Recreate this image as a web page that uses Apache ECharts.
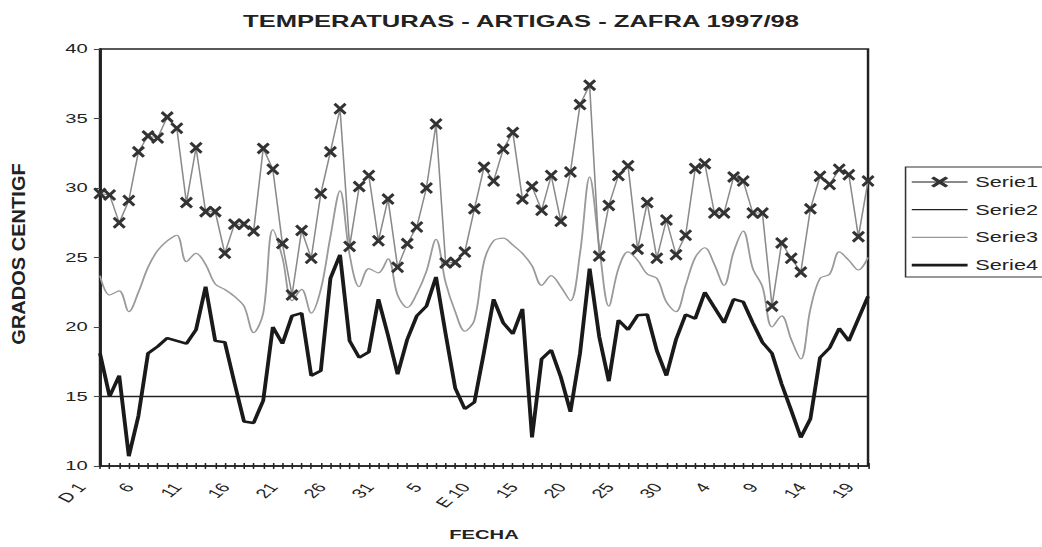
<!DOCTYPE html>
<html><head><meta charset="utf-8">
<script src="https://cdn.jsdelivr.net/npm/echarts@6/dist/echarts.min.js"></script>
<style>
html,body{margin:0;padding:0;background:#fff;overflow:hidden;width:1042px;height:547px}
#wrap{width:1042px;height:547px;overflow:hidden;position:relative;background:#fff}
#chart{width:672px;height:547px;transform:scaleX(1.5506);transform-origin:0 0}
</style></head><body><div id="wrap"><div id="chart"></div></div>
<script>
// Category labels: 1 Dec 1997 .. 19 Feb 1998
const categories = [
 "D 1","2","3","4","5","6","7","8","9","10","11","12","13","14","15","16","17","18","19","20","21","22","23","24","25","26","27","28","29","30","31",
 "1","2","3","4","5","6","7","8","9","E 10","11","12","13","14","15","16","17","18","19","20","21","22","23","24","25","26","27","28","29","30","31",
 "1","2","3","4","5","6","7","8","9","10","11","12","13","14","15","16","17","18","19"
];
const seriesNames = ["Serie1","Serie2","Serie3","Serie4"];
const serie1 = [
 29.6, 29.5, 27.5, 29.1, 32.6, 33.75, 33.6, 35.1, 34.3, 28.95,
 32.9, 28.3, 28.3, 25.3, 27.4, 27.4, 26.9, 32.85, 31.35, 26.0,
 22.3, 26.95, 24.95, 29.6, 32.6, 35.7, 25.8, 30.1, 30.9, 26.2,
 29.2, 24.3, 26.0, 27.2, 30.0, 34.6, 24.6, 24.65, 25.4, 28.5,
 31.5, 30.5, 32.8, 34.0, 29.2, 30.1, 28.4, 30.9, 27.6, 31.15,
 36.0, 37.4, 25.1, 28.75, 30.9, 31.6, 25.6, 28.95, 24.95, 27.7,
 25.2, 26.6, 31.4, 31.75, 28.2, 28.2, 30.8, 30.5, 28.2, 28.2,
 21.5, 26.05, 24.95, 23.95, 28.5, 30.85, 30.25, 31.35, 30.95, 26.5,
 30.5
];
const serie2 = [
 15,15,15,15,15,15,15,15,15,15, 15,15,15,15,15,15,15,15,15,15,
 15,15,15,15,15,15,15,15,15,15, 15,15,15,15,15,15,15,15,15,15,
 15,15,15,15,15,15,15,15,15,15, 15,15,15,15,15,15,15,15,15,15,
 15,15,15,15,15,15,15,15,15,15, 15,15,15,15,15,15,15,15,15,15,
 15
];
const serie3 = [
 23.7, 22.3, 22.6, 21.1, 22.5, 24.3, 25.5, 26.2, 26.6, 24.7,
 25.3, 24.5, 23.1, 22.7, 22.2, 21.5, 19.6, 21.0, 27.0, 25.0,
 21.9, 22.7, 21.0, 22.7, 26.5, 29.8, 25.2, 22.9, 24.2, 23.9,
 24.9, 22.3, 21.4, 22.4, 24.0, 26.3, 23.2, 21.1, 19.7, 20.5,
 24.7, 26.2, 26.4, 25.9, 25.3, 24.4, 23.0, 23.7, 22.9, 21.9,
 25.3, 30.8, 25.8, 21.5, 24.2, 25.4, 24.8, 23.8, 23.5, 21.8,
 21.1, 23.0, 25.0, 25.7, 24.5, 23.0, 25.4, 26.9, 24.2, 22.9,
 20.0, 20.8, 19.1, 17.7, 21.3, 23.5, 23.8, 25.4, 24.8, 24.1,
 25.0
];
const serie4 = [
 18.1, 15.0, 16.5, 10.7, 13.6, 18.1, 18.6, 19.2, 19.0, 18.8,
 19.8, 22.9, 19.0, 18.9, 16.0, 13.2, 13.1, 14.7, 20.0, 18.8,
 20.8, 21.0, 16.5, 16.85, 23.5, 25.2, 19.0, 17.8, 18.2, 22.0,
 19.4, 16.6, 19.1, 20.8, 21.5, 23.6, 19.5, 15.6, 14.1, 14.6,
 18.2, 22.0, 20.3, 19.5, 21.3, 12.05, 17.7, 18.35, 16.4, 13.9,
 18.1, 24.2, 19.3, 16.1, 20.5, 19.8, 20.85, 20.9, 18.3, 16.5,
 19.1, 20.9, 20.6, 22.5, 21.4, 20.3, 22.0, 21.8, 20.3, 18.9,
 18.1, 15.9, 14.0, 12.05, 13.4, 17.8, 18.5, 19.9, 19.0, 20.6,
 22.2
];
const yTicks = {min: 10, max: 40, step: 5};
const titleText = "TEMPERATURAS - ARTIGAS - ZAFRA 1997/98";
const xName = "FECHA";
const yName = "GRADOS CENTIGF";

const FONT = '"Liberation Sans", Arial, sans-serif';
const INK = '#222';
const xMark = 'path://M1.7,0 L5,3.3 L8.3,0 L10,1.7 L6.7,5 L10,8.3 L8.3,10 L5,6.7 L1.7,10 L0,8.3 L3.3,5 L0,1.7 Z';
// legend line icons (36x14 box, bar in the middle)
function lineIcon(h) {
  const a = (7 - h / 2).toFixed(2), b = (7 + h / 2).toFixed(2);
  return 'path://M0,0 L0,0 Z M36,14 L36,14 Z M0,' + a + ' L36,' + a + ' L36,' + b + ' L0,' + b + ' Z';
}

const chart = echarts.init(document.getElementById('chart'), null, {renderer: 'svg'});
chart.setOption({
  animation: false,
  backgroundColor: '#fff',
  textStyle: {fontFamily: FONT, color: INK},
  title: {
    text: titleText, left: 'center', top: 8,
    textStyle: {fontFamily: FONT, fontSize: 16.5, fontWeight: 'bold', color: INK}
  },
  legend: {
    orient: 'vertical', left: 584, top: 167,
    padding: [8, 14, 5, 3], itemGap: 13.7, itemWidth: 36, itemHeight: 14,
    borderColor: '#333', borderWidth: 1,
    textStyle: {fontFamily: FONT, fontSize: 14, color: INK, lineHeight: 14},
    data: [
      {name: seriesNames[0]},
      {name: seriesNames[1], icon: lineIcon(1.3)},
      {name: seriesNames[2], icon: lineIcon(1.4)},
      {name: seriesNames[3], icon: lineIcon(2.6)}
    ]
  },
  grid: {
    left: 64.5, right: 112.2, top: 49, bottom: 81,
    show: true, borderColor: '#222', borderWidth: 1.6, backgroundColor: 'transparent'
  },
  graphic: [{
    type: 'text', x: 11.9, y: 254, rotation: Math.PI / 2, scaleX: 1.67,
    style: {text: yName, font: 'bold 12px ' + FONT, fill: INK, align: 'center', verticalAlign: 'middle'}
  }],
  xAxis: [{
    type: 'category', data: categories, boundaryGap: false,
    axisLine: {lineStyle: {color: '#222', width: 1.5}},
    axisTick: {show: true, interval: 0, length: 3, lineStyle: {color: '#222'}},
    axisLabel: {interval: 4, rotate: 52, margin: 4, padding: [0, 19, 0, 0], fontSize: 13, color: INK, fontFamily: FONT},
    splitLine: {show: false},
    name: xName, nameLocation: 'middle', nameGap: 62,
    nameTextStyle: {fontFamily: FONT, fontSize: 13, fontWeight: 'bold', color: INK}
  }, {
    type: 'category', data: categories, boundaryGap: false, position: 'bottom',
    axisLine: {show: false},
    axisTick: {show: true, inside: true, interval: 0, length: 3, lineStyle: {color: '#222'}},
    axisLabel: {show: false}, splitLine: {show: false}
  }],
  yAxis: {
    type: 'value', min: yTicks.min, max: yTicks.max, interval: yTicks.step,
    axisLine: {show: true, lineStyle: {color: '#222', width: 1.5}},
    axisTick: {show: true, length: 4, lineStyle: {color: '#444'}},
    axisLabel: {fontSize: 13, color: INK, margin: 8, fontFamily: FONT},
    splitLine: {show: false}
  },
  series: [{
    name: seriesNames[0], type: 'line', data: serie1, z: 5,
    symbol: xMark, symbolSize: [8.5, 12], showSymbol: true, showAllSymbol: true,
    lineStyle: {color: '#8a8a8a', width: 1},
    itemStyle: {color: '#333', borderWidth: 0}
  }, {
    name: seriesNames[1], type: 'line', data: serie2, symbol: 'none', z: 3,
    lineStyle: {color: '#222', width: 1.3}, itemStyle: {color: '#222'}
  }, {
    name: seriesNames[2], type: 'line', data: serie3, symbol: 'none', smooth: 0.35, z: 2,
    lineStyle: {color: '#9a9a9a', width: 1.2}, itemStyle: {color: '#9a9a9a'}
  }, {
    name: seriesNames[3], type: 'line', data: serie4, symbol: 'none', z: 4,
    lineStyle: {color: '#1a1a1a', width: 2.5}, itemStyle: {color: '#1a1a1a'}
  }]
});
</script>
</body></html>
